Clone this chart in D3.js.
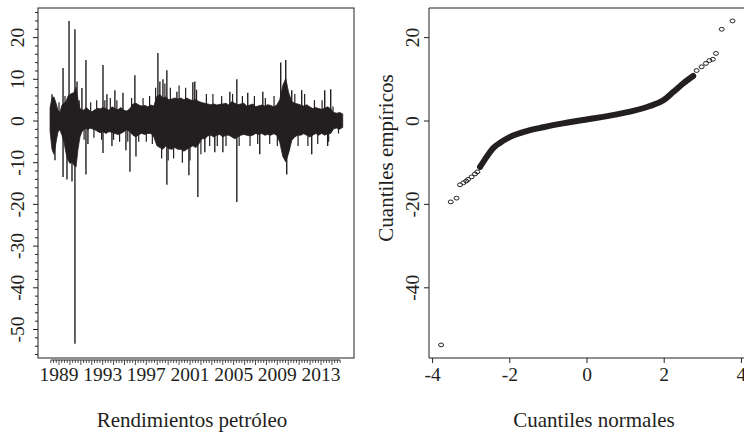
<!DOCTYPE html>
<html>
<head>
<meta charset="utf-8">
<script src="https://cdn.jsdelivr.net/npm/d3@7"></script>
<style>
body { margin: 0; background: #fff; }
</style>
</head>
<body>
<svg id="chart" width="744" height="433"></svg>
<script>
// body of the daily return series, read as high / low envelope
const bandYears = [1988.18, 1988.36, 1988.54, 1988.73, 1988.91, 1989.09, 1989.27, 1989.46, 1989.64, 1989.82,
    1990.01, 1990.19, 1990.37, 1990.56, 1990.74, 1990.92, 1991.10, 1991.29, 1991.47, 1991.65,
    1991.84, 1992.02, 1992.29, 1992.57, 1992.75, 1993.03, 1993.30, 1993.58, 1993.85, 1994.12,
    1994.40, 1994.67, 1994.95, 1995.22, 1995.50, 1995.77, 1996.05, 1996.32, 1996.59, 1996.87,
    1997.14, 1997.42, 1997.69, 1997.97, 1998.24, 1998.52, 1998.79, 1999.07, 1999.34, 1999.61,
    1999.89, 2000.16, 2000.44, 2000.71, 2000.99, 2001.26, 2001.54, 2001.81, 2002.08, 2002.36,
    2002.63, 2002.91, 2003.18, 2003.46, 2003.73, 2004.01, 2004.28, 2004.56, 2004.83, 2005.10,
    2005.38, 2005.65, 2005.93, 2006.20, 2006.48, 2006.75, 2007.03, 2007.30, 2007.57, 2007.85,
    2008.12, 2008.40, 2008.67, 2008.95, 2009.22, 2009.50, 2009.77, 2010.04, 2010.32, 2010.59,
    2010.87, 2011.14, 2011.42, 2011.69, 2011.97, 2012.24, 2012.52, 2012.79, 2013.06, 2013.34,
    2013.61, 2013.89, 2014.16, 2014.44, 2014.71, 2014.99];
const bandHigh = [3.8, 6.5, 6.8, 5, 3, 2.5, 4.5, 5, 5.5, 7,
    7.5, 7.8, 8, 9.5, 6, 3.5, 3.2, 3, 3.8, 3.4,
    2.8, 2.6, 3.2, 3.6, 3.4, 3.8, 3.5, 3, 4, 3.5,
    3.2, 3.8, 3, 2.8, 3.5, 4.8, 5, 4.5, 4.2, 4.4,
    4, 4.5, 4.2, 7, 7.5, 6.5, 6.8, 6, 6.2, 6.5,
    6.2, 6.5, 6, 6.5, 6, 5.8, 6, 5.5, 5.2, 5,
    4.8, 4.6, 4.8, 4.5, 4.7, 4.8, 5, 4.5, 5.5, 5,
    4.6, 4.8, 5, 4.2, 4.5, 4.8, 4, 4.3, 4.5, 4.2,
    4.6, 4.4, 4, 4.5, 6, 10, 12, 8, 5.5, 5,
    4.8, 4.5, 4.2, 4.6, 4, 3.5, 3.8, 3.5, 3.3, 3.6,
    4, 3.4, 2.4, 2.2, 2.4, 2];
const bandLow = [-2.9, -8, -9.4, -6, -3, -2.5, -4, -6, -9, -11,
    -12, -11.5, -12.5, -13, -8, -4.5, -3, -2.5, -2, -2.5,
    -2, -2.2, -2.5, -3, -3.3, -3, -3.5, -3, -3.2, -3.5,
    -3.8, -3.5, -3, -2.5, -3, -4, -4.5, -3.8, -3.5, -3.8,
    -3.5, -3.5, -4.5, -7, -7.5, -8, -7, -7.8, -8, -7.5,
    -8, -8, -8.5, -8, -7.5, -7, -7.5, -6.5, -5, -5,
    -4.2, -4, -4.5, -4, -3.8, -4.5, -4, -4, -4.5, -5,
    -4.5, -4, -3.8, -4, -4.2, -4, -3.5, -3.8, -3.5, -4,
    -3.8, -4, -3.6, -4, -6, -10, -11.5, -9, -5.5, -4.5,
    -4, -4, -3.6, -4, -4.5, -4, -3.5, -4, -3.5, -4,
    -3.6, -3.5, -2.2, -2, -2.3, -1.8];

// isolated large daily moves
const spikeYears = [1988.36, 1988.63, 1989.37, 1989.37, 1989.73, 1989.92, 1990.19, 1990.46, 1990.46, 1990.65,
    1991.10, 1991.47, 1991.47, 1991.65, 1993.03, 1993.03, 1993.39, 1993.85, 1994.12, 1994.86,
    1995.13, 1995.50, 1995.95, 1996.05, 1998.06, 1998.24, 1998.52, 1998.88, 1998.88, 1999.80,
    2000.90, 2001.26, 2001.44, 2001.72, 2002.36, 2003.27, 2004.01, 2004.65, 2005.29, 2005.29,
    2006.29, 2007.39, 2007.67, 2009.31, 2009.77, 2009.86, 2010.32, 2011.23, 2012.15, 2013.34,
    2013.61, 2013.89];
const spikeValues = [6.4, -9.4, 12.7, -13.4, -14, 24, -14.5, 22, -53.4, 9.5,
    7.9, 14.6, -12.8, -5.5, 13.4, -7.7, 6.4, -6, 7.4, 6.8,
    -7, -12.2, 11, -8.5, 16.3, 9.5, 10, 12.2, -15.3, 7,
    -13, 9.3, 9.5, -18.2, -7.5, -7.5, -7.5, 7, 10, -19.4,
    6.8, -8, 7, 14, 14.6, -12.8, 7.4, 7.4, -8, 7.4,
    -6, 7.6];

// smaller moves that poke out of the band
const jagYears = [1988.45, 1989.0, 1989.55, 1990.1, 1990.85, 1991.3, 1991.9, 1992.2, 1992.45, 1992.9,
    1993.2, 1993.7, 1994.0, 1994.3, 1994.55, 1995.3, 1995.65, 1996.3, 1996.7, 1997.0,
    1997.3, 1997.55, 1997.85, 1998.4, 1998.7, 1999.0, 1999.2, 1999.5, 2000.0, 2000.3,
    2000.6, 2001.0, 2001.6, 2002.0, 2002.5, 2002.8, 2003.1, 2003.5, 2003.9, 2004.3,
    2004.9, 2005.5, 2005.8, 2006.5, 2006.9, 2007.2, 2007.9, 2008.3, 2008.7, 2009.0,
    2009.6, 2010.1, 2010.6, 2010.9, 2011.5, 2011.8, 2012.4, 2012.7, 2013.1, 2013.7,
    2014.1, 2014.6];
const jagValues = [-6.5, 4.5, 6, -10, 5, -4.5, 4.5, -4, 5, -4.5,
    5, 5.5, -4.5, 5, -5, -5, 5.5, -5, 5.5, -5,
    6, -5.5, 8, -9, 9, -9.5, 8, -9, 8.5, -10,
    8, -9.5, 7.5, -8, 6.5, -6, 6.5, -6, 6, -6,
    6.5, -6, 6, -6, 6, -5.5, 5.5, -5.5, 6, -6,
    9, -7, 6.5, -6, 6.5, -6, 5, -5.5, 5, -5,
    3.5, -3];

const yearLabels = [1989, 1993, 1997, 2001, 2005, 2009, 2013];
const returnTicks = [-50, -40, -30, -20, -10, 0, 10, 20];

// normal QQ plot, theoretical vs empirical quantiles
const qqNormal = [-3.78, -3.53, -3.38, -3.29, -3.20, -3.13, -3.08, -2.99, -2.90, -2.84,
    -2.77, -2.60, -2.43, -2.25, -1.99, -1.56, -1.13, -0.70, -0.10, 0.77,
    1.63, 1.98, 2.24, 2.49, 2.75, 2.84, 2.97, 3.08, 3.17, 3.26,
    3.34, 3.49, 3.77];
const qqEmpirical = [-53.7, -19.4, -18.5, -15.3, -14.8, -14.4, -14.0, -13.4, -12.7, -12.2,
    -11.0, -8.6, -6.5, -5.2, -3.8, -2.4, -1.5, -0.7, 0.24, 1.6,
    3.6, 5.0, 7.0, 9.0, 10.8, 12.1, 13.0, 13.8, 14.5, 14.8,
    16.2, 22.0, 24.0];
const qqTicksX = [-4, -2, 0, 2, 4];
const qqTicksY = [-40, -20, 0, 20];

const ink = "#231f20";
const tickFont = 19.5;
const titleFont = 21;
const svg = d3.select("#chart");

// serif text helper
function label(sel, size) {
    return sel.style("font-family", "'Liberation Serif', 'Times New Roman', serif")
        .style("font-size", size + "px")
        .attr("fill", ink);
}

// shared vertical scale (both panels use the same range)
const y = d3.scaleLinear().domain([0, 20]).range([121, 37.6]);

//------------------------------ left panel
const xL = d3.scaleLinear().domain([1989, 2013]).range([59, 321]);
const left = svg.append("g");

left.append("rect")
    .attr("x", 38).attr("y", 8)
    .attr("width", 316).attr("height", 350)
    .attr("fill", "none").attr("stroke", ink).attr("stroke-width", 1);

//render band
const band = d3.area()
    .x(i => xL(bandYears[i]))
    .y0(i => y(bandLow[i] * 0.85))
    .y1(i => y(bandHigh[i] * 0.85));

left.append("path")
    .attr("d", band(d3.range(bandYears.length)))
    .attr("fill", ink).attr("stroke", ink).attr("stroke-width", 0.8);

//render smaller moves
left.selectAll(".jag")
    .data(d3.range(jagYears.length))
    .enter()
    .append("line")
    .attr("x1", i => xL(jagYears[i]))
    .attr("x2", i => xL(jagYears[i]))
    .attr("y1", y(0))
    .attr("y2", i => y(jagValues[i]))
    .attr("stroke", ink).attr("stroke-width", 1.2);

//render spikes
left.selectAll(".spike")
    .data(d3.range(spikeYears.length))
    .enter()
    .append("line")
    .attr("x1", i => xL(spikeYears[i]))
    .attr("x2", i => xL(spikeYears[i]))
    .attr("y1", y(0))
    .attr("y2", i => y(spikeValues[i]))
    .attr("stroke", ink).attr("stroke-width", 1.4);

// x axis: quarterly minor ticks, yearly ticks, labels every 4 years
const quarters = d3.range(1988.25, 2014.8, 0.25);
const xAxisG = left.append("g");
xAxisG.append("line")
    .attr("x1", xL(quarters[0])).attr("x2", xL(quarters[quarters.length - 1]))
    .attr("y1", 360).attr("y2", 360)
    .attr("stroke", ink);
xAxisG.selectAll(".q")
    .data(quarters)
    .enter()
    .append("line")
    .attr("x1", d => xL(d)).attr("x2", d => xL(d))
    .attr("y1", 360)
    .attr("y2", d => Math.abs(d - Math.round(d)) < 0.01 ? 365 : 363)
    .attr("stroke", ink).attr("stroke-width", 0.8);

left.selectAll(".yl")
    .data(yearLabels)
    .enter()
    .append("text")
    .attr("x", d => xL(d))
    .attr("y", 381)
    .attr("text-anchor", "middle")
    .call(label, tickFont)
    .text(d => d);

// y axis with minor ticks every 2
left.selectAll(".ym")
    .data(d3.range(-56, 27, 2))
    .enter()
    .append("line")
    .attr("x1", d => d % 10 === 0 ? 33 : 35).attr("x2", 38)
    .attr("y1", d => y(d)).attr("y2", d => y(d))
    .attr("stroke", ink).attr("stroke-width", 1);

left.selectAll(".ylab")
    .data(returnTicks)
    .enter()
    .append("text")
    .attr("transform", d => `translate(23.5,${y(d)}) rotate(-90)`)
    .attr("text-anchor", "middle")
    .call(label, tickFont)
    .text(d => d);

left.append("text")
    .attr("x", 192).attr("y", 427)
    .attr("text-anchor", "middle")
    .call(label, titleFont)
    .text("Rendimientos petróleo");

//------------------------------ right panel
const xR = d3.scaleLinear().domain([0, 2]).range([587, 664.2]);
const right = svg.append("g");

right.append("path")
    .attr("d", "M745,8H429V358H745")
    .attr("fill", "none").attr("stroke", ink).attr("stroke-width", 1);

const qqIdx = d3.range(qqNormal.length);

//render dense part of the curve
const dense = d3.line()
    .x(i => xR(qqNormal[i]))
    .y(i => y(qqEmpirical[i]))
    .curve(d3.curveMonotoneX);

right.append("path")
    .attr("d", dense(qqIdx.filter(i => Math.abs(qqNormal[i]) < 2.8)))
    .attr("fill", "none").attr("stroke", ink)
    .attr("stroke-width", 6).attr("stroke-linecap", "round");

//render points
right.selectAll(".pt")
    .data(qqIdx)
    .enter()
    .append("ellipse")
    .attr("cx", i => xR(qqNormal[i]))
    .attr("cy", i => y(qqEmpirical[i]))
    .attr("rx", 2.5).attr("ry", 1.9)
    .attr("fill", "none").attr("stroke", ink).attr("stroke-width", 1);

right.selectAll(".xt")
    .data(qqTicksX)
    .enter()
    .append("line")
    .attr("x1", d => xR(d)).attr("x2", d => xR(d))
    .attr("y1", 358).attr("y2", 363)
    .attr("stroke", ink);

right.selectAll(".xtl")
    .data(qqTicksX)
    .enter()
    .append("text")
    .attr("x", d => xR(d))
    .attr("y", 381)
    .attr("text-anchor", "middle")
    .call(label, tickFont)
    .text(d => d);

right.selectAll(".yt")
    .data(qqTicksY)
    .enter()
    .append("line")
    .attr("x1", 424).attr("x2", 429)
    .attr("y1", d => y(d)).attr("y2", d => y(d))
    .attr("stroke", ink);

right.selectAll(".ytl")
    .data(qqTicksY)
    .enter()
    .append("text")
    .attr("transform", d => `translate(419,${y(d)}) rotate(-90)`)
    .attr("text-anchor", "middle")
    .call(label, tickFont)
    .text(d => d);

right.append("text")
    .attr("x", 594).attr("y", 427)
    .attr("text-anchor", "middle")
    .call(label, titleFont)
    .text("Cuantiles normales");

right.append("text")
    .attr("transform", "translate(393,158) rotate(-90)")
    .attr("text-anchor", "middle")
    .call(label, titleFont)
    .text("Cuantiles empíricos");
</script>
</body>
</html>
